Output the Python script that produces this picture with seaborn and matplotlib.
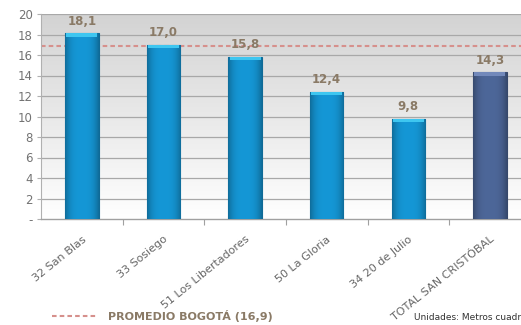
import numpy as np
import pandas as pd
import matplotlib
matplotlib.use("Agg")
import matplotlib.pyplot as plt
import matplotlib.colors as mcolors
from matplotlib.patches import Rectangle
import seaborn as sns

# Metros cuadrados de espacio público por habitante, localidad San Cristóbal
categorias = ["32 San Blas", "33 Sosiego", "51 Los Libertadores",
              "50 La Gloria", "34 20 de Julio", "TOTAL SAN CRISTÓBAL"]
valores = [18.1, 17.0, 15.8, 12.4, 9.8, 14.3]
promedio_bogota = 16.9
yticks = [0, 2, 4, 6, 8, 10, 12, 14, 16, 18, 20]
ytick_labels = ["-", "2", "4", "6", "8", "10", "12", "14", "16", "18", "20"]

AZUL = "#1597d6"
AZUL_TOTAL = "#4d6799"
colores = [AZUL] * 5 + [AZUL_TOTAL]
tapas = ["#3ec6f0"] * 5 + ["#7289bb"]

sns.set_theme(style="white")
plt.rcParams["font.family"] = ["DejaVu Sans"]

df = pd.DataFrame({"upz": categorias, "valor": valores})

fig = plt.figure(figsize=(5.21, 3.25), dpi=100)
W, H = 521, 325
ax = fig.add_axes([41 / W, 106 / H, (521 - 41) / W, 205 / H])

sns.barplot(data=df, x="upz", y="valor", hue="upz", palette=colores,
            legend=False, width=0.41, saturation=1, ax=ax, zorder=3)

xmax = 5.38
ax.set_xlim(-0.5, xmax)
ax.set_ylim(0, 20)

# Fondo con degradado gris -> blanco
grad = np.linspace(0, 1, 256).reshape(-1, 1)
top = np.array(mcolors.to_rgb("#d3d3d3"))
bot = np.array(mcolors.to_rgb("#ffffff"))
bg = top[None, None, :] * (1 - grad[..., None]) + bot[None, None, :] * grad[..., None]
ax.imshow(bg, extent=[-0.5, xmax, 0, 20], aspect="auto", zorder=0,
          interpolation="bilinear")

# Líneas de cuadrícula
for y in yticks[1:]:
    ax.axhline(y, color="#a8a8a8", lw=0.9, zorder=1)

# Sombreado de las barras (bordes oscuros, tapa clara)
prof = np.linspace(-1, 1, 64)
shade = 1 - 0.28 * np.abs(prof) ** 3
for p, col, tapa in zip(ax.patches, colores, tapas):
    x0, w, h = p.get_x(), p.get_width(), p.get_height()
    base = np.array(mcolors.to_rgb(col))
    img = np.clip(base[None, None, :] * shade[None, :, None], 0, 1)
    im = ax.imshow(img, extent=[x0, x0 + w, 0, h], aspect="auto",
                   zorder=3.5, interpolation="bilinear")
    im.set_clip_path(p)
    ax.add_patch(Rectangle((x0 + 0.015, h - 0.3), w - 0.03, 0.3,
                           color=tapa, lw=0, zorder=3.6))
    p.set_edgecolor(np.clip(base * 0.7, 0, 1))
    p.set_linewidth(0.8)

ax.set_xlim(-0.5, xmax)
ax.set_ylim(0, 20)

# Promedio Bogotá
ax.axhline(promedio_bogota, color="#d6908c", lw=1.5,
           linestyle=(0, (2.2, 1.5)), zorder=2.5)

# Etiquetas de valor
for i, v in enumerate(valores):
    ax.text(i, v + 0.55, f"{v:.1f}".replace(".", ","), ha="center",
            va="bottom", fontsize=8.5, fontweight="bold", color="#8a7a66",
            zorder=5)

# Ejes
for s in ["top", "right"]:
    ax.spines[s].set_visible(False)
ax.spines["left"].set_color("#b0b0b0")
ax.spines["left"].set_linewidth(0.8)
ax.spines["bottom"].set_color("#a0a0a0")
ax.spines["bottom"].set_linewidth(1.0)

ax.set_yticks(yticks)
ax.set_yticklabels(ytick_labels)
ax.tick_params(axis="y", length=3, width=0.8, color="#b0b0b0",
               labelsize=8.5, labelcolor="#737373", pad=3, left=True)

ax.set_xticks(range(len(categorias)))
ax.set_xticklabels(categorias, rotation=39, ha="right",
                   rotation_mode="anchor", fontsize=8, color="#666666")
ax.tick_params(axis="x", length=0, pad=11)
# Marcas entre categorías
ax.set_xticks(np.arange(0.5, 5.0, 1.0), minor=True)
ax.tick_params(axis="x", which="minor", length=4, width=0.8,
               color="#a0a0a0", bottom=True)
ax.set_xlabel("")
ax.set_ylabel("")

# Leyenda inferior
fig.add_artist(plt.Line2D([52 / W, 98 / W], [1 - 316 / H] * 2,
                          color="#d6908c", lw=1.5,
                          linestyle=(0, (2.2, 1.5)), transform=fig.transFigure))
fig.text(108 / W, 1 - 316 / H, "PROMEDIO BOGOTÁ (16,9)", fontsize=8,
         fontweight="bold", color="#8a7a66", va="center", ha="left")
fig.text(414 / W, 1 - 317 / H, "Unidades: Metros cuadrados", fontsize=6.5,
         color="#333333", va="center", ha="left")

fig.savefig("out.png", dpi=100, facecolor="white")
